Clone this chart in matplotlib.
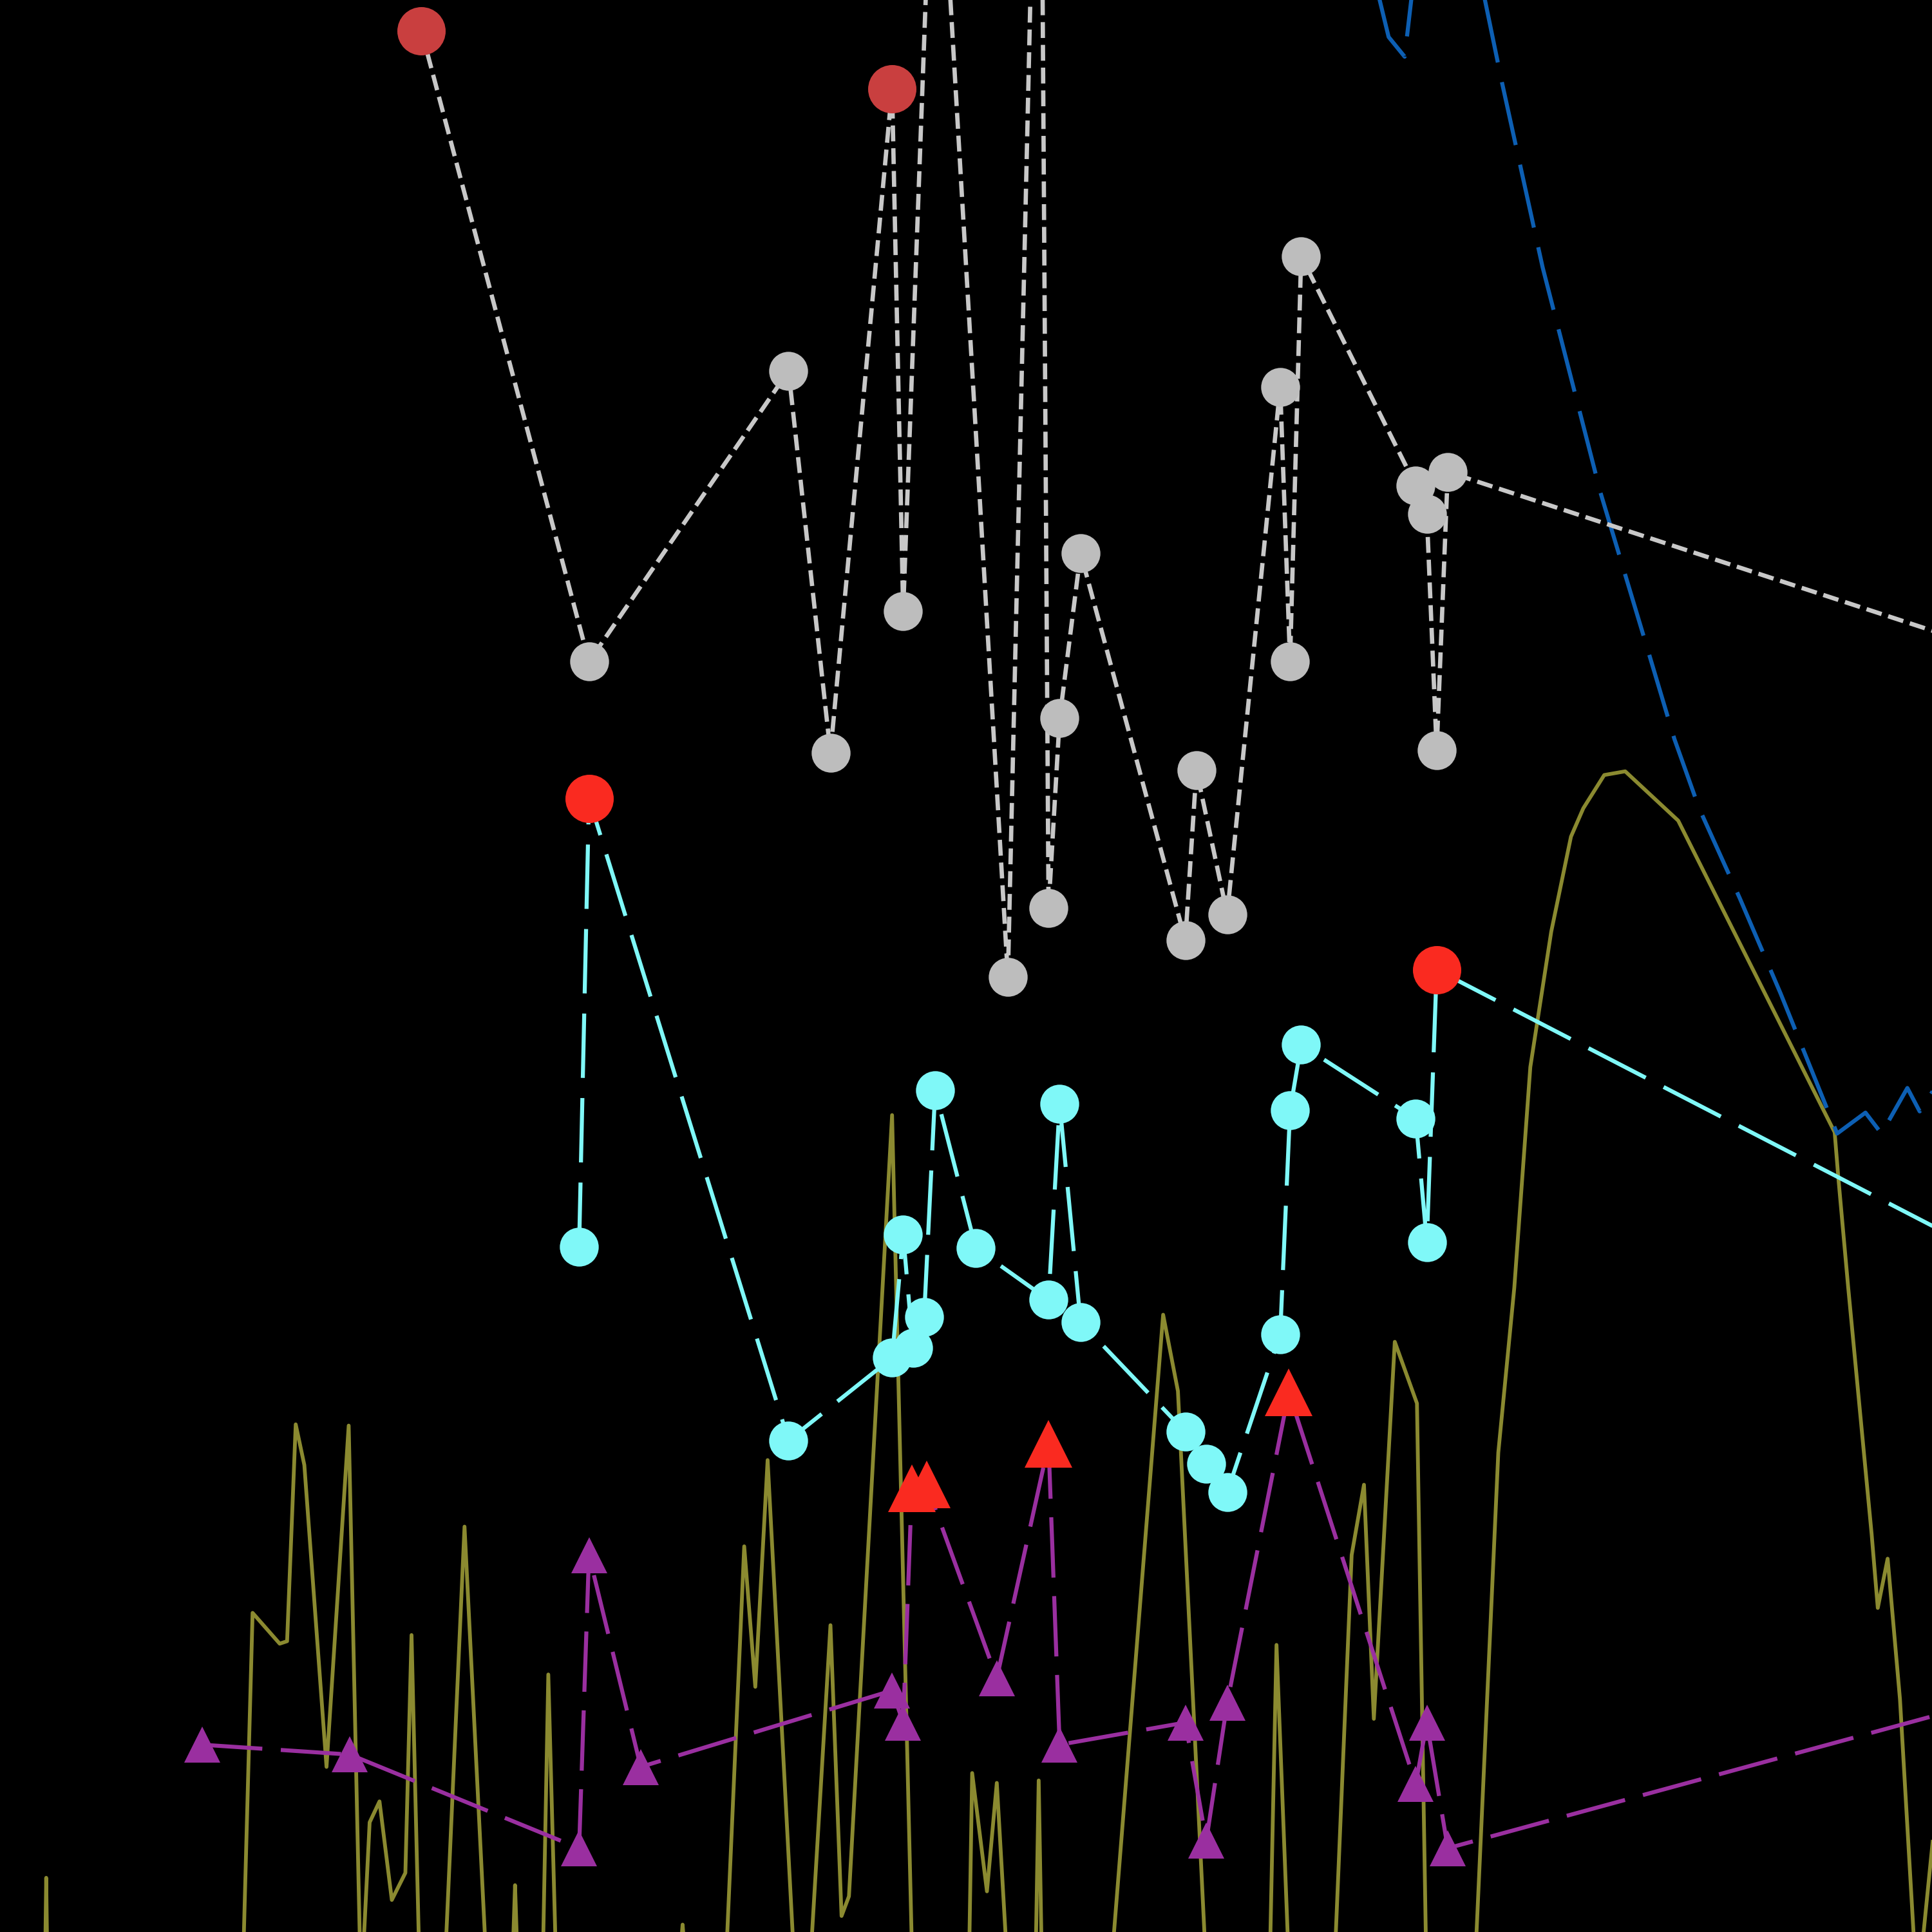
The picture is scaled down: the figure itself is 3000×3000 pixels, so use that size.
import matplotlib
matplotlib.use("Agg")
import matplotlib.pyplot as plt

# values (x to the right, y downward, view is 0..1568)
gray_x = [342, 478, 640, 674, 724, 733, 759, 818, 844, 851, 860, 877, 962, 971,
          996, 1039, 1047, 1056, 1149, 1158, 1166, 1175, 1700]
gray_y = [25, 537, 301, 611, 72, 496, -210, 793, -339, 737, 583, 449, 763, 625,
          742, 314, 537, 208, 394, 417, 609, 383, 555]
gray_flag = [0, 4]

cyan_x = [470, 478, 640, 724, 733, 741, 750, 759, 792, 851, 860, 877, 962, 979,
          996, 1039, 1047, 1056, 1149, 1158, 1166, 1700]
cyan_y = [1012, 648, 1169, 1102, 1002, 1094, 1069, 885, 1013, 1055, 896, 1073,
          1162, 1188, 1211, 1083, 901, 848, 908, 1008, 787, 1063]
cyan_flag = [1, 20]

purple_x = [164, 284, 470, 478, 520, 724, 733, 740, 752, 809, 851, 860, 962, 979,
            996, 1046, 1149, 1158, 1175, 1700]
purple_y = [1416, 1424, 1500, 1262, 1434, 1372, 1398, 1208, 1205, 1362, 1172,
            1416, 1398, 1494, 1382, 1130, 1448, 1398, 1500, 1357]
purple_flag = [7, 8, 10, 15]

olive_x = [36, 37.5, 39, 196, 205, 227, 233, 240, 247, 265, 283, 293, 300, 308,
           318, 329, 334, 341, 360, 377, 396, 415, 418, 421, 440, 445, 452, 551,
           554, 557, 588, 604, 613, 623, 646, 656, 674, 683, 689, 724, 741, 786,
           789, 801, 809, 819, 840, 843, 846, 900, 944, 956, 980, 1030, 1036,
           1047, 1082, 1097, 1107, 1115, 1132, 1150, 1158, 1196, 1216, 1229, 1242,
           1259, 1275, 1285, 1302, 1319, 1362, 1489, 1492, 1500, 1519, 1524, 1532,
           1542, 1556, 1578]
olive_y = [1640, 1524, 1640, 1640, 1309, 1334, 1332, 1156, 1189, 1434, 1157, 1620,
           1479, 1462, 1542, 1520, 1327, 1620, 1620, 1239, 1620, 1620, 1530, 1620,
           1620, 1359, 1620, 1600, 1562, 1600, 1620, 1255, 1369, 1185, 1620, 1620,
           1319, 1555, 1539, 905, 1620, 1620, 1439, 1535, 1447, 1620, 1620, 1445,
           1620, 1620, 1067, 1129, 1620, 1620, 1335, 1620, 1620, 1262, 1205, 1395,
           1089, 1139, 1620, 1620, 1179, 1045, 866, 756, 679, 656, 629, 626, 666,
           919, 956, 1045, 1245, 1305, 1265, 1379, 1620, 1400]

blue_x = [1110, 1127, 1140, 1150, 1200, 1219, 1252, 1299, 1336, 1359, 1379, 1412,
          1445, 1491, 1514, 1527, 1548, 1558, 1580]
blue_y = [-40, 30, 46, -40, -25, 67, 217, 400, 523, 600, 656, 729, 806, 920, 903,
          920, 883, 902, 868]

fig = plt.figure(figsize=(10, 10), dpi=300, facecolor="black")
ax = fig.add_axes([0, 0, 1, 1])
ax.set_facecolor("black")

ax.plot(olive_x, olive_y, "-", color="#8b8a30", lw=1.4, zorder=1)
ax.plot(blue_x, blue_y, color="#0d5fb3", lw=1.5, dashes=(16, 5), zorder=2)

ax.plot(gray_x, gray_y, "--", color="#c8c8c8", lw=1.6, marker="o", ms=14.5,
        mfc="#bdbdbd", mec="none", zorder=3)
ax.plot([gray_x[i] for i in gray_flag], [gray_y[i] for i in gray_flag], "o",
        ms=18, color="#c93f3f", mec="none", zorder=3.5)

ax.plot(cyan_x, cyan_y, color="#7ff8f8", lw=1.5, dashes=(16, 5), marker="o",
        ms=14.5, mec="none", zorder=4)
ax.plot([cyan_x[i] for i in cyan_flag], [cyan_y[i] for i in cyan_flag], "o",
        ms=18, color="#fa2a20", mec="none", zorder=4.5)

ax.plot(purple_x, purple_y, color="#9a2fa0", lw=1.5, dashes=(15, 4.6), marker="^",
        ms=13.3, mec="none", zorder=5)
ax.plot([purple_x[i] for i in purple_flag], [purple_y[i] for i in purple_flag], "^",
        ms=17.6, color="#fa2a20", mec="none", zorder=5.5)

ax.set_xlim(0, 1568)
ax.set_ylim(1568, 0)
ax.axis("off")

fig.savefig("out.png", dpi=300, facecolor="black")
